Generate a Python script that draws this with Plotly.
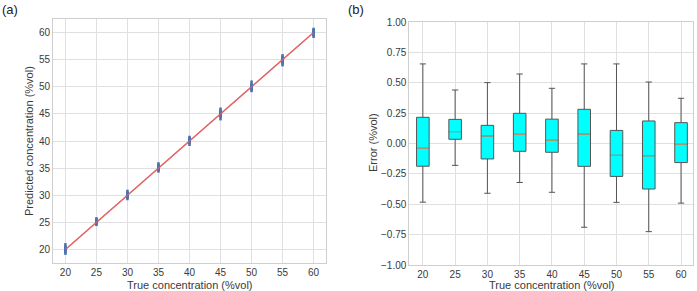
import plotly.graph_objects as go

# ---- data ----
concentrations = [20, 25, 30, 35, 40, 45, 50, 55, 60]
err_upper = [0.657, 0.442, 0.503, 0.574, 0.456, 0.657, 0.657, 0.508, 0.374]
err_q3 = [0.217, 0.200, 0.151, 0.250, 0.202, 0.283, 0.109, 0.187, 0.173]
err_median = [-0.038, 0.099, 0.063, 0.077, 0.028, 0.078, -0.096, -0.100, -0.005]
err_q1 = [-0.186, 0.036, -0.126, -0.063, -0.071, -0.187, -0.270, -0.374, -0.156]
err_lower = [-0.482, -0.179, -0.409, -0.320, -0.401, -0.689, -0.484, -0.725, -0.490]
tick_labels = [str(c) for c in concentrations]

BOX_W = 0.39
FONT = "Liberation Sans, Arial, sans-serif"
TICK_COLOR = "#3a3a3a"
GRID = "#e0e0e0"
FRAME = "#cfcfcf"

W, H = 697, 291


def fx(x):
    return x / W


def fy(y):
    return 1 - y / H


fig = go.Figure()

# ---- panel (a): predicted vs true ----
px, py = [], []
for c, lo, q1, md, q3, hi in zip(concentrations, err_lower, err_q1, err_median, err_q3, err_upper):
    for e in (lo, q1, md, q3, hi):
        px.append(c)
        py.append(c + e)
fig.add_trace(go.Scatter(x=[concentrations[0], concentrations[-1]],
                         y=[concentrations[0], concentrations[-1]],
                         mode="lines", line=dict(color="#e06666", width=1.2),
                         xaxis="x", yaxis="y", showlegend=False))
fig.add_trace(go.Scatter(x=px, y=py, mode="markers",
                         marker=dict(symbol="line-ns", size=4, color="#4c72b0",
                                     line=dict(color="#4c72b0", width=2.6)),
                         xaxis="x", yaxis="y", showlegend=False))
fig.add_trace(go.Scatter(x=[concentrations[0], concentrations[-1]],
                         y=[concentrations[0], concentrations[-1]],
                         mode="lines", line=dict(color="#e06666", width=1.2),
                         opacity=0.7, xaxis="x", yaxis="y", showlegend=False))

# ---- panel (b): error boxplots ----
positions = list(range(len(concentrations)))
fig.add_trace(go.Box(x=positions, q1=err_q1, median=err_median, q3=err_q3,
                     lowerfence=err_lower, upperfence=err_upper,
                     width=BOX_W, whiskerwidth=0.5,
                     fillcolor="#00ffff", line=dict(color="#555555", width=1),
                     xaxis="x2", yaxis="y2", showlegend=False, hoverinfo="skip"))
mx, my = [], []
for p, m in zip(positions, err_median):
    mx += [p - BOX_W / 2 + 0.02, p + BOX_W / 2 - 0.02, None]
    my += [m, m, None]
fig.add_trace(go.Scatter(x=mx, y=my, mode="lines",
                         line=dict(color="#c4a470", width=1),
                         xaxis="x2", yaxis="y2", showlegend=False))

axis_common = dict(showgrid=True, gridcolor=GRID, gridwidth=1, zeroline=False,
                   showline=True, linecolor=FRAME, linewidth=1, mirror=True,
                   ticks="", automargin=False,
                   tickfont=dict(size=10, color=TICK_COLOR, family=FONT))

fig.update_layout(
    width=W, height=H,
    margin=dict(l=0, r=0, t=0, b=0, autoexpand=False),
    paper_bgcolor="white", plot_bgcolor="white",
    font=dict(family=FONT, color=TICK_COLOR),
    xaxis=dict(domain=[fx(53), fx(326)], range=[18, 62],
               tickvals=concentrations, anchor="y", **axis_common),
    yaxis=dict(domain=[fy(263), fy(19)], range=[17.5, 62.5],
               tickvals=list(range(20, 61, 5)), anchor="x", **axis_common),
    xaxis2=dict(domain=[fx(409.3), fx(693.3)], range=[-0.42, 8.38],
                tickvals=positions, ticktext=tick_labels, anchor="y2", **axis_common),
    yaxis2=dict(domain=[fy(265), fy(22.3)], range=[-1, 1],
                tickvals=[-1, -0.75, -0.5, -0.25, 0, 0.25, 0.5, 0.75, 1],
                tickformat=".2f", anchor="x2", **axis_common),
)

ann_font = dict(size=11, color=TICK_COLOR, family=FONT)
fig.add_annotation(text="True concentration (%vol)", xref="paper", yref="paper",
                   x=fx(190), y=fy(284.5), showarrow=False, font=ann_font,
                   xanchor="center", yanchor="middle")
fig.add_annotation(text="Predicted concentration (%vol)", xref="paper", yref="paper",
                   x=fx(29), y=fy(141), showarrow=False, font=ann_font,
                   textangle=-90, xanchor="center", yanchor="middle")
fig.add_annotation(text="True concentration (%vol)", xref="paper", yref="paper",
                   x=fx(552), y=fy(284.5), showarrow=False, font=ann_font,
                   xanchor="center", yanchor="middle")
fig.add_annotation(text="Error (%vol)", xref="paper", yref="paper",
                   x=fx(373), y=fy(143), showarrow=False, font=ann_font,
                   textangle=-90, xanchor="center", yanchor="middle")
fig.add_annotation(text="(a)", xref="paper", yref="paper", x=fx(0), y=fy(0),
                   showarrow=False, font=dict(size=13, color="#222222", family=FONT),
                   xanchor="left", yanchor="top")
fig.add_annotation(text="(b)", xref="paper", yref="paper", x=fx(346), y=fy(0),
                   showarrow=False, font=dict(size=13, color="#222222", family=FONT),
                   xanchor="left", yanchor="top")

fig.write_html("out.html", config={"displayModeBar": False},
               post_script="document.body.style.margin='0';document.body.style.overflow='hidden';")
